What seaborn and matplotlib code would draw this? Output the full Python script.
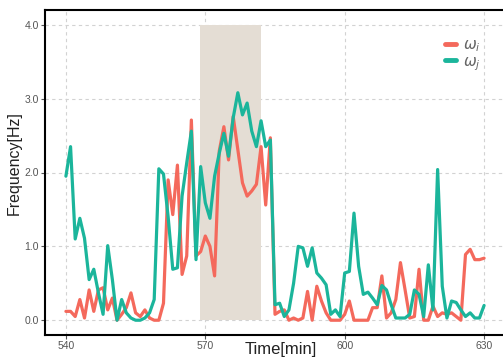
import numpy as np
import pandas as pd
import matplotlib
matplotlib.use("Agg")
import matplotlib.pyplot as plt
import seaborn as sns

# ---------------------------------------------------------------
# data (one sample per minute, 540..630)
# ---------------------------------------------------------------
time_min = list(range(540, 631))

omega_i = [0.12, 0.12, 0.05, 0.28, 0.03, 0.41, 0.12, 0.41, 0.44, 0.14,
           0.30, 0.00, 0.08, 0.17, 0.37, 0.10, 0.05, 0.14, 0.03, 0.00,
           0.00, 0.23, 1.90, 1.43, 2.10, 0.62, 0.87, 2.71, 0.87, 0.93,
           1.14, 1.00, 0.60, 2.29, 2.62, 2.17, 2.76, 2.31, 1.86, 1.68,
           1.75, 1.84, 2.35, 1.56, 2.47, 0.08, 0.12, 0.14, 0.00, 0.03,
           0.00, 0.03, 0.39, 0.00, 0.46, 0.26, 0.10, 0.00, 0.00, 0.00,
           0.08, 0.26, 0.00, 0.00, 0.00, 0.00, 0.17, 0.17, 0.60, 0.03,
           0.10, 0.28, 0.78, 0.41, 0.03, 0.05, 0.69, 0.00, 0.00, 0.19,
           0.05, 0.10, 0.08, 0.10, 0.05, 0.00, 0.89, 0.96, 0.82, 0.82,
           0.84]

omega_j = [1.95, 2.35, 1.10, 1.38, 1.11, 0.55, 0.69, 0.37, 0.08, 1.01,
           0.55, 0.00, 0.28, 0.10, 0.03, 0.00, 0.00, 0.03, 0.10, 0.28,
           2.05, 1.98, 1.40, 0.69, 0.71, 1.68, 2.13, 2.56, 0.82, 2.08,
           1.59, 1.38, 1.95, 2.26, 2.53, 2.22, 2.74, 3.08, 2.78, 2.94,
           2.56, 2.35, 2.70, 2.35, 2.44, 0.21, 0.23, 0.05, 0.14, 0.50,
           1.00, 0.98, 0.73, 0.98, 0.64, 0.57, 0.48, 0.08, 0.14, 0.05,
           0.64, 0.66, 1.45, 0.73, 0.35, 0.38, 0.30, 0.21, 0.47, 0.41,
           0.21, 0.03, 0.03, 0.03, 0.08, 0.41, 0.35, 0.05, 0.75, 0.14,
           2.04, 0.46, 0.03, 0.26, 0.24, 0.14, 0.05, 0.10, 0.03, 0.03,
           0.20]

series_labels = [r"$\omega_i$", r"$\omega_j$"]
x_ticks = [540, 570, 600, 630]
y_ticks = [0.0, 1.0, 2.0, 3.0, 4.0]

# highlighted interval
shade_start, shade_end, shade_top = 568.8, 581.9, 4.0

# ---------------------------------------------------------------
# long-form table for seaborn
# ---------------------------------------------------------------
df = pd.concat([
    pd.DataFrame({"time": time_min, "freq": omega_i, "series": series_labels[0]}),
    pd.DataFrame({"time": time_min, "freq": omega_j, "series": series_labels[1]}),
])

sns.set_style("white")
plt.rcParams["font.family"] = ["Liberation Sans", "DejaVu Sans"]

fig = plt.figure(figsize=(5.03, 3.60), dpi=100)
ax = fig.add_axes([45 / 503, 25 / 360, 460 / 503, 325 / 360])

ax.fill_between([shade_start, shade_end], 0, shade_top,
                color="#E4DDD4", linewidth=0, zorder=1)

sns.lineplot(data=df, x="time", y="freq", hue="series",
             palette=["#F4695C", "#1BB59B"], linewidth=2.3, ax=ax,
             zorder=3)

ax.set_xlim(535.5, 634.5)
ax.set_ylim(-0.2, 4.2)
ax.set_xticks(x_ticks)
ax.set_yticks(y_ticks)
ax.set_yticklabels([f"{v:.1f}" for v in y_ticks])

ax.grid(True, color="#D2D2D2", linestyle=(0, (3, 3)), linewidth=0.8)
ax.set_axisbelow(True)
for sp in ax.spines.values():
    sp.set_color("black")
    sp.set_linewidth(1.5)

ax.tick_params(axis="both", length=3, width=0.8, color="#555555",
               labelsize=7.5, labelcolor="#555555", pad=1.5)
ax.tick_params(axis="both", bottom=True, left=True)

ax.set_xlabel("Time[min]", fontsize=12, color="#222222")
ax.xaxis.set_label_coords(0.513, -0.022)
ax.set_ylabel("Frequency[Hz]", fontsize=11.5, color="#222222")
ax.yaxis.set_label_coords(-0.05, 0.53)

leg = ax.legend(loc="upper left", bbox_to_anchor=(0.84, 0.955), frameon=False,
                fontsize=11, handlelength=0.7, handletextpad=0.5,
                labelspacing=0.05, labelcolor="#666666")
for line in leg.get_lines():
    line.set_linewidth(3.5)

fig.savefig("out.png", dpi=100)
